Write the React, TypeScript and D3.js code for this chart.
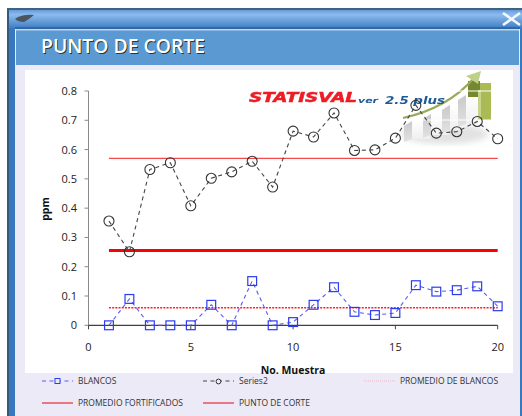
import React from "react";
import * as d3 from "d3";

const samples = d3.range(1, 21);
const blancos = [0, 0.09, 0, 0, 0, 0.07, 0, 0.151, 0, 0.011, 0.07, 0.13, 0.046, 0.035, 0.042, 0.137, 0.115, 0.12, 0.133, 0.065];
const series2 = [0.356, 0.251, 0.532, 0.555, 0.408, 0.502, 0.524, 0.56, 0.472, 0.663, 0.643, 0.725, 0.597, 0.599, 0.639, 0.751, 0.656, 0.661, 0.696, 0.637];
const promedioBlancos = 0.06;
const promedioFortificados = 0.57;
const puntoDeCorte = 0.255;
const xTicks = [0, 5, 10, 15, 20];
const yTicks = [0, 0.1, 0.2, 0.3, 0.4, 0.5, 0.6, 0.7, 0.8];
const logoSteps = [
  { x: 412, w: 18, top: 121, bottom: 139 },
  { x: 431, w: 18, top: 114, bottom: 135 },
  { x: 450, w: 15, top: 105, bottom: 130 },
  { x: 466, w: 12, top: 95, bottom: 124 },
];
const font = "'Open Sans', 'Noto Sans', sans-serif";

export default function App() {
  const x = d3.scaleLinear().domain([0, 20]).range([88.5, 497.7]);
  const y = d3.scaleLinear().domain([0, 0.8]).range([325.3, 91]);
  const line = d3.line<number>().x((_, i) => x(samples[i])).y((d) => y(d));
  const x1 = x(1), x20 = x(20);
  return (
    <svg width={522} height={416} style={{ position: "absolute", left: 0, top: 0, fontFamily: font }}>
      <defs>
        <linearGradient id="bar" x1="0" y1="0" x2="0" y2="1">
          <stop offset="0" stopColor="#5f95d2" />
          <stop offset="0.3" stopColor="#8dbbee" />
          <stop offset="1" stopColor="#3f7fc4" />
        </linearGradient>
        <linearGradient id="step" x1="0" y1="0" x2="0" y2="1">
          <stop offset="0" stopColor="#ffffff" />
          <stop offset="1" stopColor="#efefef" />
        </linearGradient>
        <linearGradient id="side" x1="0" y1="0" x2="0" y2="1">
          <stop offset="0" stopColor="#c9c9c9" />
          <stop offset="1" stopColor="#e2e2e2" />
        </linearGradient>
        <filter id="soft"><feGaussianBlur stdDeviation="0.5" /></filter>
        <filter id="soft2"><feGaussianBlur stdDeviation="3" /></filter>
        <filter id="soft3"><feGaussianBlur stdDeviation="0.35" /></filter>
      </defs>
      <rect width={522} height={416} fill="#fff" />
      {/* window */}
      <rect x={7} y={9} width={515} height={407} fill="#3a78bd" />
      <rect x={7} y={9} width={515} height={19} fill="url(#bar)" />
      <rect x={7} y={8} width={515} height={2} fill="#3d6285" />
      <rect x={7} y={10} width={2} height={406} fill="#35597c" />
      <rect x={15} y={28} width={505} height={388} fill="#eceaf6" />
      <rect x={15} y={27} width={505} height={2} fill="#2f6aa8" />
      <rect x={16} y={29} width={503} height={36} fill="#5b99d3" />
      <rect x={16} y={29} width={503} height={1.5} fill="#c4d4e6" />
      <rect x={25} y={70} width={488} height={303} fill="#fff" />
      <path d="M15 19 Q22 14 34 15 Q28 20 24 22 Q18 22 15 19 Z" fill="#4a5560" />
      <path d="M503 13 L520 25 M520 13 L503 25" stroke="#f4f8fc" strokeWidth={2.6} />
      <g filter="url(#soft3)">
        <text x={42} y={53.5} fontFamily="'Open Sans', sans-serif" fontSize={19} fontWeight={600} fill="#333" textLength={164} lengthAdjust="spacingAndGlyphs">PUNTO DE CORTE</text>
      </g>
      <text x={41} y={53} fontFamily="'Open Sans', sans-serif" fontSize={19} fontWeight={600} fill="#fff" textLength={164} lengthAdjust="spacingAndGlyphs">PUNTO DE CORTE</text>

      {/* logo */}
      <g filter="url(#soft)">
        <ellipse cx={445} cy={134} rx={44} ry={10} fill="#e2e2e2" filter="url(#soft2)" />
        {logoSteps.map((b) => (
          <g key={b.x}>
            <path d={`M${b.x - 8} ${b.top + 5} L${b.x} ${b.top} L${b.x} ${b.bottom} L${b.x - 8} ${b.bottom + 3} Z`} fill="url(#side)" />
            <rect x={b.x} y={b.top} width={b.w} height={b.bottom - b.top} fill="url(#step)" />
          </g>
        ))}
        <rect x={468} y={81} width={12} height={16} fill="#75882f" />
        <rect x={480} y={83} width={11} height={37} fill="#aabb56" />
        <rect x={478} y={90} width={3} height={30} fill="#c8d28a" />
        <path d="M403 118 Q448 108 474 78" fill="none" stroke="#98a85c" strokeWidth={2.2} />
        <path d="M466 76 L481 71 L478 84 Z" fill="#bfd08a" />
      </g>
      <line x1={404} x2={493} y1={120} y2={120} stroke="#fff" />
      <line x1={438} x2={493} y1={91} y2={91} stroke="#fff" />
      <g filter="url(#soft3)">
        <text x={249} y={102} fontFamily="'DejaVu Sans', sans-serif" fontStyle="italic" fontWeight={700} fontSize={13.5} fill="#ee1c25" stroke="#ee1c25" strokeWidth={0.5} textLength={108} lengthAdjust="spacingAndGlyphs">STATISVAL</text>
        <text x={358} y={103} fontFamily="'DejaVu Sans', sans-serif" fontStyle="italic" fontWeight={700} fontSize={7.5} fill="#1f5c96" textLength={20} lengthAdjust="spacingAndGlyphs">ver</text>
        <text x={385} y={104} fontFamily="'DejaVu Sans', sans-serif" fontStyle="italic" fontWeight={700} fontSize={10} fill="#1f5c96" textLength={60} lengthAdjust="spacingAndGlyphs">2.5 plus</text>
      </g>

      {/* axes */}
      <line x1={x(0)} x2={x(0)} y1={y(0.8)} y2={y(0)} stroke="#8a8a8a" />
      {yTicks.map((t) => (
        <g key={t}>
          <line x1={x(0) - 4} x2={x(0)} y1={y(t)} y2={y(t)} stroke="#8a8a8a" />
          <text x={77} y={y(t) + 4} textAnchor="end" fontSize={11} fill="#222">{t === 0 ? "0" : t.toFixed(1)}</text>
        </g>
      ))}
      <line x1={x(0)} x2={x(20)} y1={y(0)} y2={y(0)} stroke="#111" />
      {xTicks.map((t) => (
        <g key={t}>
          <line x1={x(t)} x2={x(t)} y1={y(0)} y2={y(0) + 4} stroke="#444" />
          <text x={x(t)} y={350.5} textAnchor="middle" fontSize={11} fill="#222">{t}</text>
        </g>
      ))}
      <text transform="translate(49 209) rotate(-90)" textAnchor="middle" fontSize={10.5} fontWeight={700} fill="#111">ppm</text>
      <text x={293} y={374} textAnchor="middle" fontSize={10.5} fontWeight={700} fill="#111">No. Muestra</text>

      {/* reference lines */}
      <line x1={x1} x2={x20} y1={y(promedioFortificados)} y2={y(promedioFortificados)} stroke="#f4494d" strokeWidth={1.4} />
      <line x1={x1} x2={x20} y1={y(puntoDeCorte)} y2={y(puntoDeCorte)} stroke="#ff0000" strokeWidth={3} />
      <line x1={x1} x2={x20} y1={y(promedioBlancos)} y2={y(promedioBlancos)} stroke="#ff1c24" strokeWidth={1.6} strokeDasharray="2 1.2" />

      {/* series */}
      <path d={line(series2) ?? ""} fill="none" stroke="#444" strokeWidth={1.1} strokeDasharray="4 3.5" />
      {series2.map((v, i) => (
        <circle key={i} cx={x(samples[i])} cy={y(v)} r={5} fill="none" stroke="#333" strokeWidth={1.1} />
      ))}
      <path d={line(blancos) ?? ""} fill="none" stroke="#5a5af5" strokeWidth={1.1} strokeDasharray="4 3.5" />
      {blancos.map((v, i) => (
        <rect key={i} x={x(samples[i]) - 4.4} y={y(v) - 4.4} width={8.8} height={8.8} fill="none" stroke="#2b3cf0" strokeWidth={1.2} />
      ))}

      {/* legend */}
      <g fontSize={8.5} fill="#333">
        <line x1={42} x2={73} y1={381} y2={381} stroke="#5a5af5" strokeWidth={1.1} strokeDasharray="4 3.5" />
        <rect x={55} y={378.5} width={5} height={5} fill="#eceaf6" stroke="#2b3cf0" />
        <text x={78} y={384}>BLANCOS</text>
        <line x1={203} x2={234} y1={381} y2={381} stroke="#444" strokeWidth={1.1} strokeDasharray="4 3.5" />
        <circle cx={218.5} cy={381.5} r={2.4} fill="#eceaf6" stroke="#333" />
        <text x={239} y={384}>Series2</text>
        <line x1={364} x2={395} y1={381} y2={381} stroke="#f4b6c2" strokeWidth={1.2} strokeDasharray="1 1" />
        <text x={400} y={384}>PROMEDIO DE BLANCOS</text>
        <line x1={42} x2={73} y1={403} y2={403} stroke="#e21b23" strokeWidth={1.1} />
        <text x={78} y={406}>PROMEDIO FORTIFICADOS</text>
        <line x1={203} x2={234} y1={403} y2={403} stroke="#e21b23" strokeWidth={1.1} />
        <text x={239} y={406}>PUNTO DE CORTE</text>
      </g>
    </svg>
  );
}
